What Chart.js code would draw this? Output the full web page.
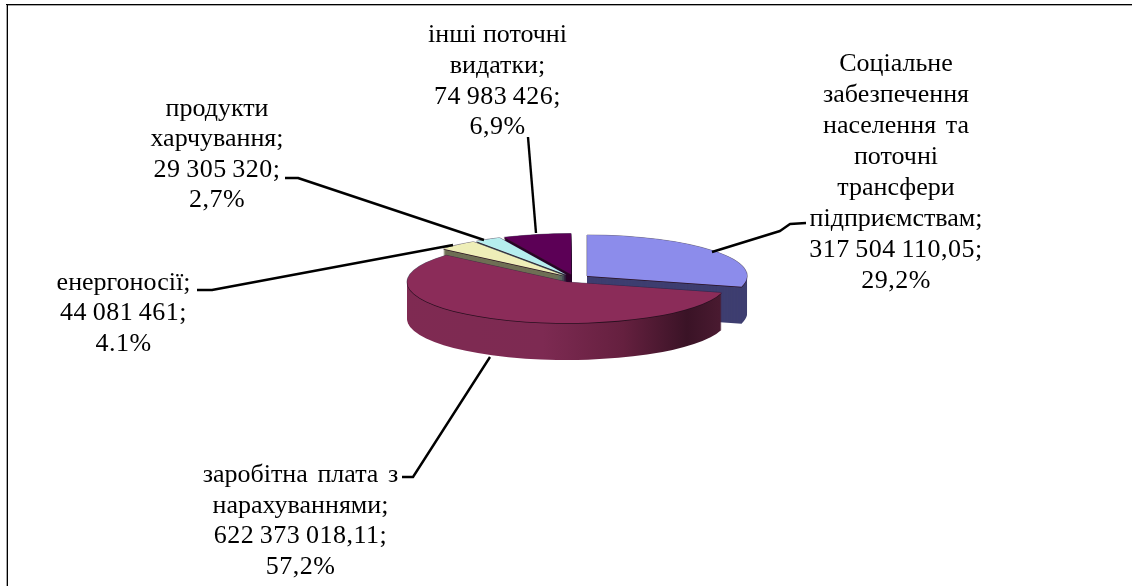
<!DOCTYPE html>
<html><head><meta charset="utf-8">
<style>html,body{margin:0;padding:0;background:#fff}canvas{display:block}</style>
<script src="https://cdn.jsdelivr.net/npm/chart.js@4"></script>
</head><body><canvas id="c" width="1132" height="586"></canvas>
<script>
const categories = ['Соціальне забезпечення населення та поточні трансфери підприємствам','заробітна плата з нарахуваннями','енергоносії','продукти харчування','інші поточні видатки'];
const values = [317504110.05, 622373018.11, 44081461, 29305320, 74983426];
const labelLines = [
  ['Соціальне','забезпечення','населення та','поточні','трансфери','підприємствам;','317 504 110,05;','29,2%'],
  ['заробітна плата з','нарахуваннями;','622 373 018,11;','57,2%'],
  ['енергоносії;','44 081 461;','4.1%'],
  ['продукти','харчування;','29 305 320;','2,7%'],
  ['інші поточні','видатки;','74 983 426;','6,9%']
];
const topColors = ['#8c8ceb','#8b2c59','#eeeeb8','#b6eeee','#5c0056'];
const wallColors = ['#3e3e70','#6a2245','#6f6f55','#4a7070','#2c0029'];
const labelCenterX = [896,300.5,123.5,217,497.5];
const labelFirstY = [64,475,283,109,35.5];
const labelStep = [31,30.7,30.5,30.5,30.6];
const leaders = [
  [[712,252],[780,231],[790,224],[806,223]],
  [[490,357],[413,477],[402,477]],
  [[453,245],[212,290],[197,290]],
  [[484,240],[298,178],[285,178]],
  [[536,233],[528,137]]
];
const TILT = 0.256, DEPTH = 37, EXPLODE = 15.8;
const paintOrder = [4,3,2,0,1];

function drawArc(ctx, arc, color){
  const opts = {backgroundColor:color, borderColor:color, borderWidth:0, borderAlign:'center', offset:0, spacing:0, borderRadius:0, circular:true};
  arc.draw.call(Object.create(arc,{options:{value:opts}}), ctx);
}
const pie3d = {
  id:'pie3d',
  beforeDraw(chart){
    const ctx = chart.ctx;
    ctx.save();
    ctx.fillStyle='#fff'; ctx.fillRect(0,0,1132,586);
    ctx.fillStyle='#a8a8a8'; ctx.fillRect(6,5,1126,1); ctx.fillRect(6,5,1,581);
    ctx.fillStyle='#000'; ctx.fillRect(6,4,1126,1); ctx.fillRect(7,4,1,582);
    ctx.restore();
  },
  beforeDatasetsDraw(chart){
    const ctx = chart.ctx, arcs = chart.getDatasetMeta(0).data;
    const px = arcs[0].x, py = arcs[0].y;
    const place = (arc, dx, dy) => {
      const mid = (arc.startAngle+arc.endAngle)/2;
      ctx.setTransform(1,0,0,1,0,0);
      ctx.translate(px+dx, py+dy);
      ctx.scale(1,TILT);
      ctx.translate(-px,-py);
      ctx.translate(Math.cos(mid)*EXPLODE, Math.sin(mid)*EXPLODE);
    };
    ctx.save();
    for(const i of paintOrder){
      const arc = arcs[i], r = arc.outerRadius;
      let wall = wallColors[i];
      if(i===1){
        const g = ctx.createLinearGradient(px-r-8,0,px+r-8,0);
        g.addColorStop(0,'#7f2a52'); g.addColorStop(.45,'#7d2a52');
        g.addColorStop(.7,'#65203f'); g.addColorStop(.9,'#3a1326'); g.addColorStop(1,'#491a30');
        wall = g;
      }
      for(let d=DEPTH;d>=1;d--){ place(arc,0,d); drawArc(ctx,arc,wall); }
      for(const [dx,dy] of [[-.7,0],[.7,0],[0,-.6]]){ place(arc,dx,dy); drawArc(ctx,arc,'rgba(40,30,60,.45)'); }
      place(arc,0,.8); drawArc(ctx,arc,'#2a1020');
      place(arc,0,0); drawArc(ctx,arc,topColors[i]);
    }
    ctx.restore();
    return false;
  },
  afterDraw(chart){
    const ctx = chart.ctx;
    ctx.save();
    ctx.strokeStyle='#000'; ctx.lineWidth=2.4; ctx.lineJoin='round';
    leaders.forEach(p=>{ctx.beginPath();p.forEach(([x,y],k)=>k?ctx.lineTo(x,y):ctx.moveTo(x,y));ctx.stroke();});
    ctx.fillStyle='#000'; ctx.font='26px "Liberation Serif"'; ctx.textAlign='center'; ctx.textBaseline='middle';
    labelLines.forEach((ls,i)=>ls.forEach((t,k)=>{
      const numeric = /^\d/.test(t);
      ctx.letterSpacing = numeric ? '0.5px' : '0px';
      ctx.wordSpacing = numeric ? '-1.3px' : (t==='населення та' || t==='заробітна плата з') ? '3.2px' : '0px';
      ctx.fillText(t,labelCenterX[i],labelFirstY[i]+k*labelStep[i]);
    }));
    ctx.restore();
  }
};
new Chart(document.getElementById('c'),{
  type:'pie',
  data:{labels:categories,datasets:[{data:values,backgroundColor:topColors,borderWidth:0}]},
  options:{responsive:false,animation:false,radius:160,
    layout:{padding:{left:17,bottom:29}},
    plugins:{legend:{display:false},tooltip:{enabled:false}}},
  plugins:[pie3d]
});
</script></body></html>
